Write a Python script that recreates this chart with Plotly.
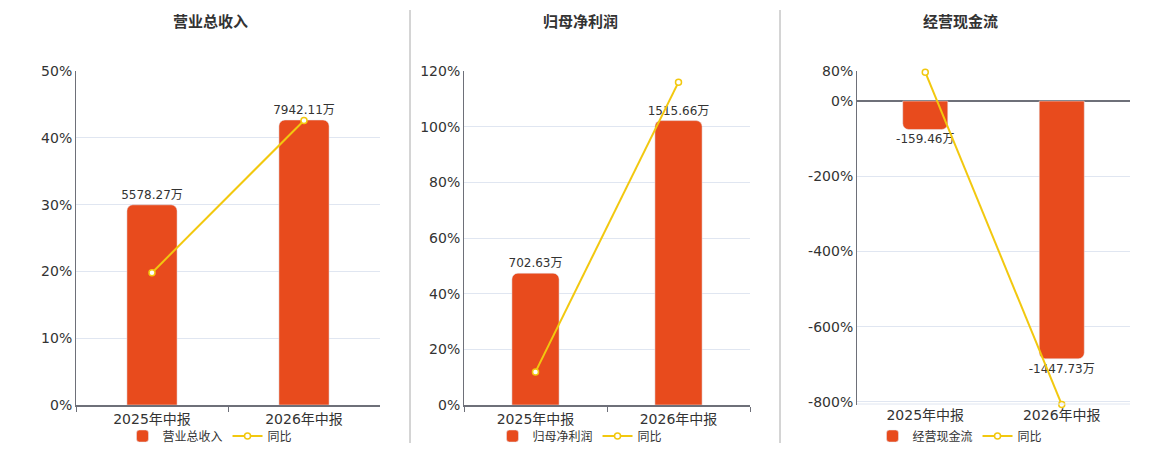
import plotly.graph_objects as go

# data
periods = ['2025年中报', '2026年中报']
titles = ['营业总收入', '归母净利润', '经营现金流']

revenue = [5578.27, 7942.11]
revenue_yoy = [19.8, 42.6]
profit = [702.63, 1515.66]
profit_yoy = [11.9, 116.0]
cashflow = [-159.46, -1447.73]
cashflow_yoy = [77.0, -807.0]

bar_vals = [revenue, profit, cashflow]
yoy_vals = [revenue_yoy, profit_yoy, cashflow_yoy]

W, H = 1160, 450
BAR = '#E84B1D'
LINE = '#F2C80F'
FONT = 'DejaVu Sans, Noto Sans CJK SC, sans-serif'

def px_x(v):
    return v / W

def px_y(v):
    return 1 - v / H

x_dom = [[76, 380], [464, 750], [857, 1130]]
y_dom = [px_y(405), px_y(71)]
pct_range = [[0, 50], [0, 120], [-808, 80]]
bar_range = [[0, 9308], [0, 1780], [-1707, 169]]
pct_ticks = [[0, 10, 20, 30, 40, 50], [0, 20, 40, 60, 80, 100, 120], [-800, -600, -400, -200, 0, 80]]
title_x = [210, 580, 960]

def ax_name(k, prefix):
    return prefix if k == 1 else f'{prefix}{k}'

fig = go.Figure()
layout = dict(
    width=W, height=H,
    margin=dict(l=0, r=0, t=0, b=0, autoexpand=False),
    plot_bgcolor='white', paper_bgcolor='white',
    font=dict(family=FONT, color='#333', size=14),
    annotations=[], shapes=[],
)

for i in range(3):
    xa = ax_name(i + 1, 'x')
    y_bar, y_pct = [ax_name(2 * i + k, 'y') for k in (1, 2)]
    lg = ax_name(i + 1, 'legend')

    # bars sit on the base axis, the yoy line on the overlay so it is drawn on top
    fig.add_trace(go.Bar(
        x=periods, y=bar_vals[i], xaxis=xa, yaxis=y_bar,
        name=titles[i], legend=lg, width=0.33,
        marker=dict(color=BAR, cornerradius=6),
        text=[f'{v:.2f}万' for v in bar_vals[i]],
        textposition='outside', cliponaxis=False, constraintext='none',
        textfont=dict(size=12, color='#333'),
        hoverinfo='skip',
    ))
    fig.add_trace(go.Scatter(
        x=periods, y=yoy_vals[i], xaxis=xa, yaxis=y_pct,
        name='同比', legend=lg, mode='lines+markers', cliponaxis=False,
        line=dict(color=LINE, width=2),
        marker=dict(symbol='circle', size=6, color='white',
                    line=dict(color=LINE, width=1.5)),
    ))

    layout[ax_name(i + 1, 'xaxis')] = dict(
        domain=[px_x(x_dom[i][0]), px_x(x_dom[i][1])], anchor=y_bar,
        showline=(i < 2), linecolor='#6E7079', linewidth=2,
        ticks='outside' if i < 2 else '', tickson='boundaries', ticklen=5,
        tickcolor='#6E7079', tickfont=dict(size=14, color='#333'),
        showgrid=False, automargin=False,
    )
    layout[ax_name(2 * i + 1, 'yaxis')] = dict(
        domain=y_dom, anchor=xa, range=bar_range[i],
        showgrid=False, zeroline=False, showticklabels=False,
        showline=False, automargin=False,
    )
    layout[ax_name(2 * i + 2, 'yaxis')] = dict(
        overlaying=y_bar, anchor=xa, side='left', range=pct_range[i],
        tickvals=pct_ticks[i], ticktext=[f'{v}%' for v in pct_ticks[i]],
        showline=True, linecolor='#6E7079', linewidth=1,
        gridcolor='#E0E6F1', gridwidth=1,
        zeroline=(i == 2), zerolinecolor='#6E7079', zerolinewidth=2,
        tickfont=dict(size=14, color='#333'), ticks='', automargin=False,
    )

    layout[lg] = dict(
        orientation='h', x=px_x(title_x[i]), xanchor='center',
        y=px_y(436), yanchor='middle', font=dict(size=12, color='#333'),
        bgcolor='rgba(0,0,0,0)',
    )
    layout['annotations'].append(dict(
        text=f'<b>{titles[i]}</b>', x=px_x(title_x[i]), y=px_y(22),
        xref='paper', yref='paper', xanchor='center', yanchor='middle',
        showarrow=False, font=dict(size=15, color='#333'),
    ))

for sx in [410, 780]:
    layout['shapes'].append(dict(
        type='line', xref='paper', yref='paper',
        x0=px_x(sx), x1=px_x(sx), y0=px_y(10), y1=px_y(443),
        line=dict(color='#AAAAAA', width=1),
    ))

# bottom edge of the cash-flow panel
layout['shapes'].append(dict(
    type='line', xref='paper', yref='paper',
    x0=px_x(857), x1=px_x(1130), y0=px_y(404), y1=px_y(404),
    line=dict(color='#E0E6F1', width=1),
))

fig.update_layout(**layout)
fig.write_html('out.html', config={'displayModeBar': False},
               post_script="document.body.style.margin='0';")
